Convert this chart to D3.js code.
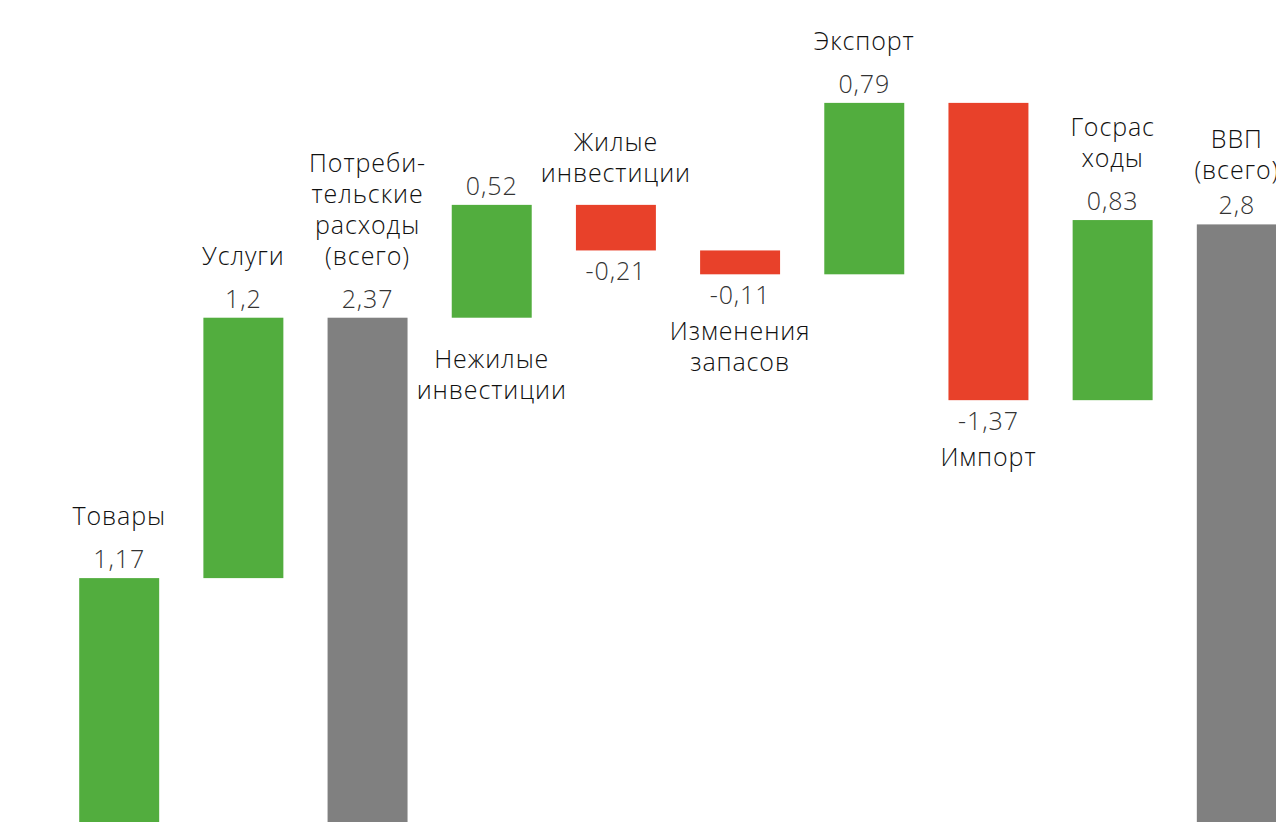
<!DOCTYPE html>
<html>
<head>
<meta charset="utf-8">
<script src="https://cdn.jsdelivr.net/npm/d3@7"></script>
<style>
  html, body { margin: 0; padding: 0; background: #fff; overflow: hidden; }
  svg { display: block; }
  text { font-family: "Open Sans", "Noto Sans", sans-serif; font-size: 25px; font-weight: 300; letter-spacing: 0.9px; }
</style>
</head>
<body>
<svg id="chart" width="1276" height="822"></svg>
<script>
// Вклад компонентов в рост ВВП, п.п.
const categories = [
  "Товары", "Услуги", "Потребительские расходы (всего)", "Нежилые инвестиции",
  "Жилые инвестиции", "Изменения запасов", "Экспорт", "Импорт",
  "Госрасходы", "ВВП (всего)"
];
// Подписи категорий по строкам
const nameLines = [
  ["Товары"], ["Услуги"], ["Потреби-", "тельские", "расходы", "(всего)"],
  ["Нежилые", "инвестиции"], ["Жилые", "инвестиции"], ["Изменения", "запасов"],
  ["Экспорт"], ["Импорт"], ["Госрас", "ходы"], ["ВВП", "(всего)"]
];
const values = [1.17, 1.2, 2.37, 0.52, -0.21, -0.11, 0.79, -1.37, 0.83, 2.8];
const kinds = ["delta", "delta", "total", "delta", "delta", "delta", "delta", "delta", "delta", "total"];

// Where the category name sits relative to the bar
const namePlacement = ["top", "top", "top", "bottom", "top", "bottom", "top", "bottom", "top", "top"];

const fmt = v => d3.format(".2~f")(v).replace("\u2212", "-").replace(".", ",");

// Build waterfall segments
let running = 0;
const bars = categories.map((c, i) => {
  let start, end;
  if (kinds[i] === "total") {
    start = 0; end = values[i]; running = values[i];
  } else {
    start = running; end = running + values[i]; running = end;
  }
  return { cat: c, i, value: values[i], kind: kinds[i], lo: Math.min(start, end), hi: Math.max(start, end) };
});

const svg = d3.select("#chart");

const x = d3.scaleBand()
  .domain(categories)
  .range([35, 1321])
  .paddingInner(0.356)
  .paddingOuter(0.356);

const y = d3.scaleLinear()
  .domain([0, 3.8])
  .range([832, 832 - 3.8 * 217]);

const color = d => d.kind === "total" ? "#808080" : (d.value >= 0 ? "#52ad3e" : "#e8412a");

svg.append("g").selectAll("rect")
  .data(bars)
  .join("rect")
  .attr("x", d => x(d.cat))
  .attr("width", x.bandwidth())
  .attr("y", d => y(d.hi))
  .attr("height", d => y(d.lo) - y(d.hi))
  .attr("fill", color);

const labels = svg.append("g").attr("text-anchor", "middle");
const lineH = 31;

bars.forEach(d => {
  const cx = x(d.cat) + x.bandwidth() / 2;
  const lines = nameLines[d.i];
  const positive = d.value >= 0;
  // value label
  const vy = positive ? y(d.hi) - 10 : y(d.lo) + 30;
  labels.append("text")
    .attr("x", cx).attr("y", vy)
    .attr("fill", "#333")
    .text(fmt(d.value));

  // category name
  const place = namePlacement[d.i];
  let firstY;
  if (place === "top") {
    const gap = d.i === 9 ? 35 : 43;
    const topRef = positive ? vy : y(d.hi) + 20;
    const lastY = topRef - gap;
    firstY = lastY - (lines.length - 1) * lineH;
  } else {
    firstY = positive ? y(d.lo) + 50 : vy + 36;
  }
  const t = labels.append("text")
    .attr("x", cx)
    .attr("fill", "#111");
  lines.forEach((ln, k) => {
    t.append("tspan").attr("x", cx).attr("y", firstY + k * lineH).text(ln);
  });
});
</script>
</body>
</html>
